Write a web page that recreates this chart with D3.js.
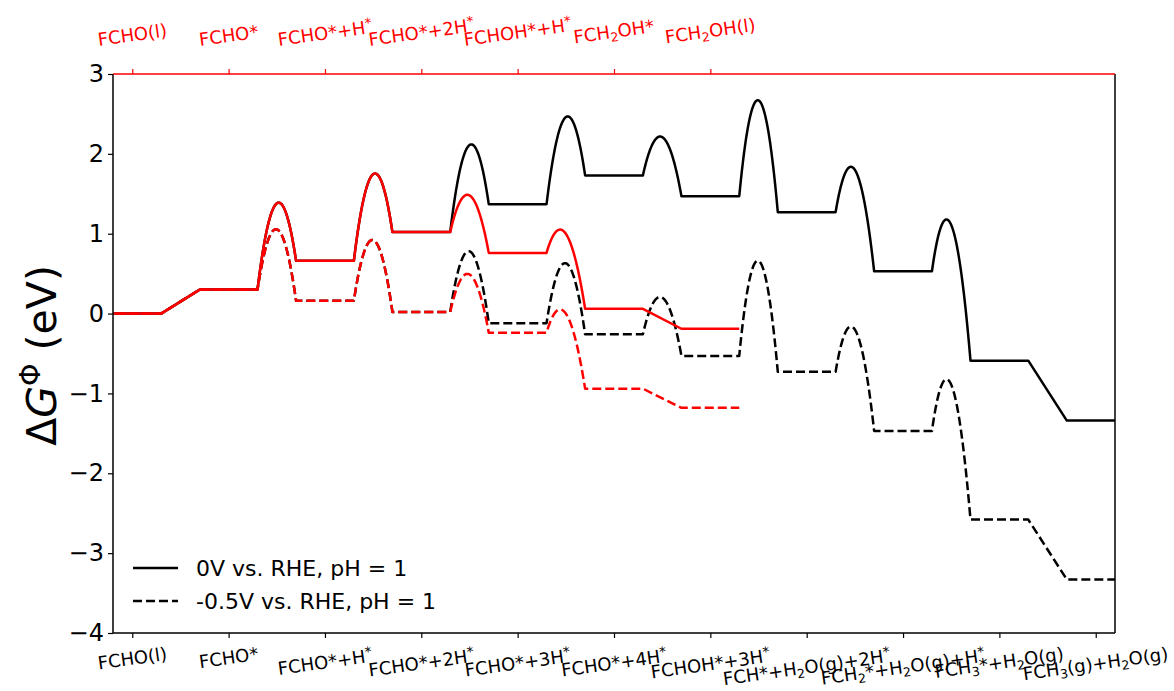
<!DOCTYPE html>
<html>
<head>
<meta charset="utf-8">
<script src="https://cdn.jsdelivr.net/npm/d3@7"></script>
<style>
  html, body { margin: 0; padding: 0; background: #fff; }
  svg text { font-family: "DejaVu Sans", sans-serif; }
</style>
</head>
<body>
<svg id="chart" width="1174" height="691"></svg>
<script>
// ---------- data ----------
const bottomLabels = ["FCHO(l)", "FCHO*", "FCHO*+H^*", "FCHO*+2H^*", "FCHO*+3H^*", "FCHO*+4H^*",
  "FCHOH*+3H^*", "FCH*+H_2O(g)+2H^*", "FCH_2*+H_2O(g)+H^*", "FCH_3*+H_2O(g)", "FCH_3(g)+H_2O(g)"];
const topLabels = ["FCHO(l)", "FCHO*", "FCHO*+H^*", "FCHO*+2H^*", "FCHOH*+H^*", "FCH_2OH*", "FCH_2OH(l)"];
const yTicks = [-4, -3, -2, -1, 0, 1, 2, 3];

// 0 V vs RHE (black, solid)
const black0V_levels = [0, 0.30, 0.66, 1.02, 1.37, 1.73, 1.47, 1.27, 0.53, -0.59, -1.34];
const black0V_ts     = [null, 1.38, 1.745, 2.11, 2.46, 2.21, 2.67, 1.80, 1.11, null];
// -0.5 V vs RHE (black, dashed)
const blackM05_levels = [0, 0.30, 0.16, 0.02, -0.12, -0.26, -0.53, -0.73, -1.47, -2.58, -3.33];
const blackM05_ts     = [null, 1.055, 0.92, 0.78, 0.63, 0.20, 0.66, -0.20, -0.89, null];
// red pathway, 0 V (solid)
const red0V_levels = [0, 0.30, 0.66, 1.02, 0.76, 0.06, -0.19];
const red0V_ts     = [null, 1.38, 1.745, 1.48, 1.00, null];
// red pathway, -0.5 V (dashed)
const redM05_levels = [0, 0.30, 0.16, 0.02, -0.24, -0.94, -1.18];
const redM05_ts     = [null, 1.055, 0.92, 0.49, 0.00, null];

const legendLabels = ["0V vs. RHE, pH = 1", "-0.5V vs. RHE, pH = 1"];

// ---------- layout ----------
const svg = d3.select("#chart");
svg.append("rect").attr("width", 1174).attr("height", 691).attr("fill", "#fff");
const L = 113, R = 1115, T = 74, B = 633;
const x = d3.scaleLinear().domain([-0.2, 10.2]).range([L, R]);
const y = d3.scaleLinear().domain([-4, 3]).range([B, T]);

svg.append("clipPath").attr("id", "clip").append("rect")
  .attr("x", L).attr("y", T - 10).attr("width", R - L).attr("height", B - T + 20);

function buildPoints(levels, ts) {
  const pts = [];
  const n = levels.length;
  for (let i = 0; i < n; i++) {
    pts.push([i - 0.3, levels[i]]);
    pts.push([i + 0.3, levels[i]]);
    if (i < n - 1) {
      const e1 = levels[i], e2 = levels[i + 1], t = ts[i];
      if (t === null || t === undefined) continue;
      const h = 0.2;
      const b = (e2 - e1) / (2 * h);
      const c = ((e1 + e2) / 2 - t) / (h * h);
      const N = 60;
      for (let k = 1; k < N; k++) {
        const u = -h + (2 * h) * k / N;
        pts.push([i + 0.5 + u, t + b * u + c * u * u]);
      }
    }
  }
  return pts;
}

const line = d3.line().x(d => x(d[0])).y(d => y(d[1]));
const plot = svg.append("g").attr("clip-path", "url(#clip)");

const series = [
  { levels: black0V_levels, ts: black0V_ts, color: "#000", dash: null },
  { levels: blackM05_levels, ts: blackM05_ts, color: "#000", dash: "9,4" },
  { levels: red0V_levels, ts: red0V_ts, color: "#ff0000", dash: null },
  { levels: redM05_levels, ts: redM05_ts, color: "#ff0000", dash: "9,4" }
];
series.forEach(s => {
  plot.append("path")
    .attr("d", line(buildPoints(s.levels, s.ts)))
    .attr("fill", "none")
    .attr("stroke", s.color)
    .attr("stroke-width", 2.5)
    .attr("stroke-linejoin", "round")
    .attr("stroke-dasharray", s.dash);
});

// ---------- axes ----------
const yAxis = d3.axisLeft(y).tickValues(yTicks).tickSize(5).tickPadding(4)
  .tickFormat(d => d < 0 ? "\u2212" + Math.abs(d) : String(d));
const gy = svg.append("g").attr("transform", `translate(${L},0)`).call(yAxis);
gy.select(".domain").remove();
gy.selectAll(".tick line").attr("stroke", "#000").attr("stroke-width", 1.2);
gy.selectAll(".tick text").attr("font-size", 24).attr("fill", "#000");

const xb = d3.axisBottom(x).tickValues(d3.range(bottomLabels.length)).tickSize(5).tickFormat("");
const gxb = svg.append("g").attr("transform", `translate(0,${B})`).call(xb);
gxb.select(".domain").remove();
gxb.selectAll(".tick line").attr("stroke", "#000").attr("stroke-width", 1.2);

const xt = d3.axisTop(x).tickValues(d3.range(topLabels.length)).tickSize(5).tickFormat("");
const gxt = svg.append("g").attr("transform", `translate(0,${T})`).call(xt);
gxt.select(".domain").remove();
gxt.selectAll(".tick line").attr("stroke", "#ff0000").attr("stroke-width", 1.2);

// spines
svg.append("line").attr("x1", L).attr("x2", L).attr("y1", T).attr("y2", B).attr("stroke", "#000").attr("stroke-width", 1.5);
svg.append("line").attr("x1", R).attr("x2", R).attr("y1", T).attr("y2", B).attr("stroke", "#000").attr("stroke-width", 1.5);
svg.append("line").attr("x1", L).attr("x2", R).attr("y1", B).attr("y2", B).attr("stroke", "#000").attr("stroke-width", 1.5);
svg.append("line").attr("x1", L).attr("x2", R).attr("y1", T).attr("y2", T).attr("stroke", "#ff0000").attr("stroke-width", 1.5);

// rich label renderer: ^x superscript, _x subscript
function richText(sel, str, fs) {
  const parts = [];
  let i = 0, buf = "";
  while (i < str.length) {
    const ch = str[i];
    if ((ch === "^" || ch === "_") && i + 1 < str.length) {
      if (buf) { parts.push({ t: buf, k: "n" }); buf = ""; }
      parts.push({ t: str[i + 1], k: ch === "^" ? "sup" : "sub" });
      i += 2;
    } else { buf += ch; i++; }
  }
  if (buf) parts.push({ t: buf, k: "n" });
  let shift = 0;
  parts.forEach(p => {
    const ts = sel.append("tspan").text(p.t);
    let target = 0;
    if (p.k === "sup") { target = -0.33; ts.attr("font-size", "0.75em"); }
    if (p.k === "sub") { target = 0.2; ts.attr("font-size", "0.7em"); }
    const d = target - shift;
    if (d !== 0) ts.attr("dy", (d * fs) + "px");
    shift = target;
  });
}

const ROT = -8;
function placeLabels(labels, color, fs, side) {
  labels.forEach((lab, i) => {
    const outer = svg.append("g");
    const inner = outer.append("g").attr("transform", `rotate(${ROT})`);
    const txt = inner.append("text")
      .attr("text-anchor", "middle")
      .attr("font-size", fs)
      .attr("fill", color);
    richText(txt, lab, fs);
    const r = inner.node().getBoundingClientRect();
    const cx = (r.left + r.right) / 2;
    const tx = x(i) - cx;
    let ty;
    if (side === "bottom") ty = (B + 10) - r.top;
    else ty = (T - 24) - r.bottom;
    outer.attr("transform", `translate(${tx},${ty})`);
  });
}
placeLabels(bottomLabels, "#000", 18, "bottom");
placeLabels(topLabels, "#ff0000", 18, "top");

// y label
const yl = svg.append("text")
  .attr("transform", `translate(56,${(T + B) / 2 + 2}) rotate(-90)`)
  .attr("text-anchor", "middle")
  .attr("font-size", 41)
  .attr("fill", "#000");
yl.append("tspan").text("\u0394");
yl.append("tspan").attr("font-style", "italic").text("G");
yl.append("tspan").attr("font-size", "0.7em").attr("dy", "-16px").text("\u03A6");
yl.append("tspan").attr("dy", "16px").text(" (eV)");

// legend
const legend = svg.append("g");
legendLabels.forEach((lab, i) => {
  const ly = 568 + i * 33;
  legend.append("line").attr("x1", 133).attr("x2", 178).attr("y1", ly).attr("y2", ly)
    .attr("stroke", "#000").attr("stroke-width", 2.5)
    .attr("stroke-dasharray", i === 1 ? "9,4" : null);
  legend.append("text").attr("x", 196).attr("y", ly).attr("dy", "0.35em")
    .attr("font-size", 22).attr("fill", "#000").text(lab);
});
</script>
</body>
</html>
